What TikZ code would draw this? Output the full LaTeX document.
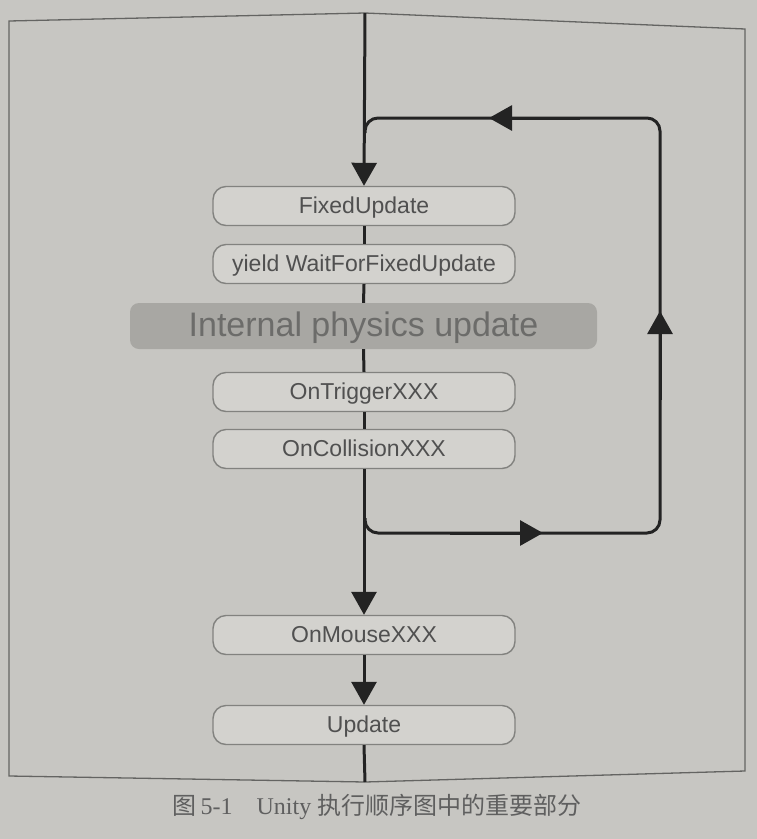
\documentclass[tikz,border=0pt]{standalone}
\usepackage{fontspec}
\setmainfont{Liberation Serif}
\newfontfamily\boxfont{Liberation Sans}
\newfontfamily\cjk{Noto Sans CJK SC}
\usetikzlibrary{arrows.meta}
\definecolor{pagebg}{RGB}{199,198,194}
\definecolor{framecol}{RGB}{100,100,98}
\definecolor{boxfill}{RGB}{211,210,206}
\definecolor{boxborder}{RGB}{130,130,127}
\definecolor{boxtext}{RGB}{80,80,80}
\definecolor{physfill}{RGB}{168,167,163}
\definecolor{phystext}{RGB}{108,108,106}
\definecolor{linecol}{RGB}{35,35,35}
\definecolor{captext}{RGB}{95,95,95}
\begin{document}
\begin{tikzpicture}[x=1pt,y=-1pt,
  stepbox/.style={draw=boxborder, fill=boxfill, line width=1.4pt, rounded corners=13pt,
    minimum width=302pt, minimum height=39pt, inner sep=0pt, text=boxtext,
    text height=17pt, text depth=3pt, font=\boxfont\fontsize{23}{23}\selectfont},
  physbox/.style={fill=physfill, rounded corners=9pt, minimum width=467pt, minimum height=46pt,
    inner sep=0pt, text=phystext, text height=25pt, text depth=5pt,
    font=\boxfont\fontsize{34}{34}\selectfont},
  flow/.style={draw=linecol, line width=3pt},
  tip/.style={-{Triangle[length=23pt,width=25pt]}},
  ]
\useasboundingbox (0,0) rectangle (757,839);
\fill[pagebg] (0,0) rectangle (757,839);
% frame
\draw[framecol, line width=1.3pt] (9,21) -- (365,13) -- (745,29) -- (745,771) -- (365,782) -- (9,776) -- cycle;

% nodes
\node[stepbox] (fu) at (364,206) {FixedUpdate};
\node[stepbox] (yw) at (364,264) {yield WaitForFixedUpdate};
\node[physbox] (ph) at (363.5,326) {Internal physics update};
\node[stepbox] (ot) at (364,392) {OnTriggerXXX};
\node[stepbox] (oc) at (364,449) {OnCollisionXXX};
\node[stepbox] (om) at (364,635) {OnMouseXXX};
\node[stepbox] (up) at (364,725) {Update};

% main line
\coordinate (top) at (365,13);
\coordinate (bot) at (365,782);
\draw[flow,tip] (top) -- (fu.north);
\draw[flow] (fu.south) -- (yw.north);
\draw[flow] (yw.south) -- (ph.north);
\draw[flow] (ph.south) -- (ot.north);
\draw[flow] (ot.south) -- (oc.north);
\draw[flow,tip] (oc.south) -- (om.north);
\draw[flow,tip] (om.south) -- (up.north);
\draw[flow] (up.south) -- (bot);

% loop
\coordinate (lbs) at (365,518);
\coordinate (lb) at (365,533);
\coordinate (rb) at (660,533);
\coordinate (rt) at (660,118);
\coordinate (lt) at (365,118);
\coordinate (lts) at (365,133);
\draw[flow, rounded corners=13pt] (lbs) -- (lb) -- (rb) -- (rt) -- (lt) -- (lts);
\coordinate (aBs) at (450,533);
\coordinate (aB) at (543,533);
\coordinate (aRs) at (660,400);
\coordinate (aR) at (660,311);
\coordinate (aTs) at (580,118);
\coordinate (aT) at (489,118);
\draw[flow,tip] (aBs) -- (aB);
\draw[flow,tip] (aRs) -- (aR);
\draw[flow,tip] (aTs) -- (aT);

% caption
\node[text=captext, font=\fontsize{24}{24}\selectfont, inner sep=0pt] (cap) at (377,807)
  {{\cjk 图}\,5-1\hspace{1em}Unity {\cjk 执行顺序图中的重要部分}};
\end{tikzpicture}
\end{document}
